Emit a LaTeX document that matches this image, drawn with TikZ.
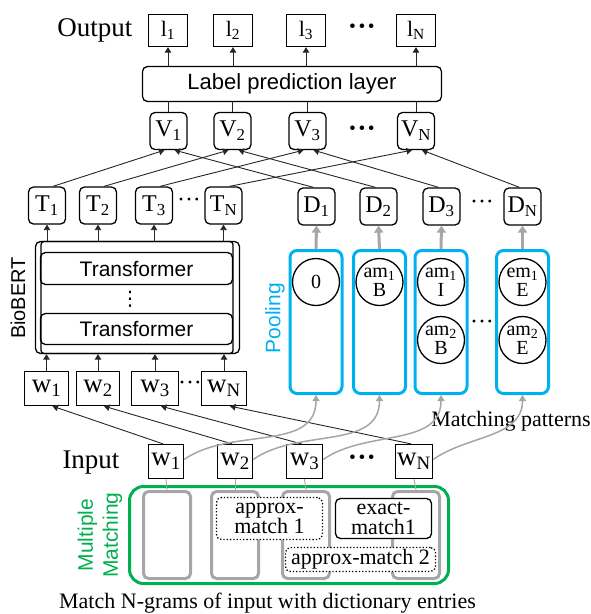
\documentclass[tikz,border=0pt]{standalone}
\usepackage{fontspec}
\setmainfont{Liberation Serif}
\setsansfont{Liberation Sans}
\newfontfamily\dejavu{DejaVu Sans}
\usetikzlibrary{arrows.meta}
\definecolor{cyanP}{HTML}{00B0F0}
\definecolor{greenM}{HTML}{00B050}
\definecolor{grayM}{HTML}{A6A6A6}
\newcommand\fsz[2]{\fontsize{#1}{#2}\selectfont}
\newcommand\sbs[1]{\textsubscript{#1}}
\begin{document}
\begin{tikzpicture}[x=1pt,y=-1pt,
  bx/.style={draw, line width=1.3pt, inner sep=0pt},
  rbx/.style={bx, rounded corners=5pt},
  lbox/.style={bx, minimum width=39, minimum height=32, font=\fsz{22}{22}},
  vbox/.style={rbx, minimum width=37, minimum height=37, font=\fsz{24}{24}},
  wbox/.style={bx, minimum height=34, font=\fsz{27}{27}},
  arr/.style={-{Triangle[width=6.5pt,length=5.5pt]}, line width=0.9pt, draw=black!85},
  ln/.style={line width=0.9pt, draw=black!85},
  pool/.style={draw=cyanP, line width=3pt, rounded corners=7pt, minimum width=52, minimum height=143, inner sep=0pt},
  circ/.style={circle, draw, line width=1.3pt, minimum size=47, inner sep=0pt, align=center, font=\fsz{20}{19}},
  garr/.style={draw=grayM, line width=3pt, -{Triangle[width=9pt,length=7pt]}},
  gcurve/.style={draw=grayM, line width=1.5pt, -{Triangle[width=7pt,length=6pt]}},
  gbox/.style={draw=grayM, line width=3pt, rounded corners=5pt, minimum width=47, minimum height=87, inner sep=0pt},
  dotbox/.style={draw, dotted, line width=1.3pt, rounded corners=5pt, fill=white, align=center, font=\fsz{22}{20}, inner sep=0pt},
  dots/.style={font=\fsz{24}{24}}
]
\useasboundingbox (0,0) rectangle (591,614);

% ---- Output row
\node[font=\fsz{27}{27}] (outl) at (95,30) {Output};
\node[lbox] (l1) at (168,30.5) {l\sbs{1}};
\node[lbox] (l2) at (233,30.5) {l\sbs{2}};
\node[lbox] (l3) at (306,30.5) {l\sbs{3}};
\node[lbox] (l4) at (416,30.5) {l\sbs{N}};
\node[font=\bfseries\fsz{28}{28}] (ldots) at (362,30) {···};

% ---- label prediction layer
\node[rbx, minimum width=299, minimum height=35, font=\sffamily\fsz{22}{22}] (lab) at (292,84) {Label prediction layer};
\foreach \i in {1,2,3,4} \draw[arr] (l\i.south |- lab.north) -- (l\i.south);

% ---- V row
\node[vbox] (V1) at (168.5,131) {V\sbs{1}};
\node[vbox] (V2) at (232.5,131) {V\sbs{2}};
\node[vbox] (V3) at (307.5,131) {V\sbs{3}};
\node[vbox] (V4) at (416,131) {V\sbs{N}};
\node[font=\bfseries\fsz{28}{28}] (vdots) at (362,132) {···};
\foreach \i in {1,2,3,4} \draw[ln] (V\i.north) -- (V\i.north |- lab.south);

% ---- T row
\node[vbox] (T1) at (47,205.5) {T\sbs{1}};
\node[vbox] (T2) at (98,205.5) {T\sbs{2}};
\node[vbox] (T3) at (154,205.5) {T\sbs{3}};
\node[vbox] (T4) at (223.5,205.5) {T\sbs{N}};
\node[dots] (tdots) at (189,203) {···};

% ---- D row
\node[vbox] (D1) at (316.5,206.5) {D\sbs{1}};
\node[vbox] (D2) at (378.5,206.5) {D\sbs{2}};
\node[vbox] (D3) at (441.5,206.5) {D\sbs{3}};
\node[vbox] (D4) at (522.5,206.5) {D\sbs{N}};
\node[dots] (ddots) at (482,205) {···};

\foreach \i in {1,2,3,4} {
  \draw[arr] ([xshift=6pt]T\i.north) -- ([xshift=-4pt]V\i.south);
  \draw[arr] ([xshift=-3pt]D\i.north) -- ([xshift=6pt]V\i.south);
}

% ---- BioBERT
\node[rbx, minimum width=204, minimum height=112] (bio) at (137.5,297.5) {};
\node[rbx, rounded corners=3pt, minimum width=192, minimum height=112] (bioin) at (137,297.5) {};
\node[rbx, minimum width=192, minimum height=32, font=\sffamily\fsz{21}{21}] (tr1) at (136.5,268.5) {Transformer};
\node[rbx, minimum width=192, minimum height=31, font=\sffamily\fsz{21}{21}] (tr2) at (136.5,329) {Transformer};
\node[font=\dejavu\fsz{20}{20}] (vd) at (130,299) {⋮};
\node[rotate=90, font=\sffamily\fsz{20}{20}] (biol) at (18,298) {BioBERT};
\foreach \i in {1,2,3,4} \draw[arr] (T\i.south |- bio.north) -- (T\i.south);

% ---- BERT input w
\node[wbox, minimum width=44] (w1) at (46.5,388.5) {w\sbs{1}};
\node[wbox, minimum width=43] (w2) at (98,388.5) {w\sbs{2}};
\node[wbox, minimum width=47] (w3) at (155,388.5) {w\sbs{3}};
\node[wbox, minimum width=45] (w4) at (224,388.5) {w\sbs{N}};
\node[dots] (wdots) at (190,386) {···};
\foreach \i in {1,2,3,4} \draw[arr] (w\i.north) -- (w\i.north |- bio.south);

% ---- Pooling
\node[rotate=90, text=cyanP, font=\sffamily\fsz{21}{21}] (pooll) at (275,318) {Pooling};
\node[pool] (P1) at (316,322) {};
\node[pool] (P2) at (379.5,322) {};
\node[pool] (P3) at (441,322) {};
\node[pool] (P4) at (522.5,322) {};
\node[circ] (c1) at (316,282) {0};
\node[circ] (c2) at (379.5,282) {am\sbs{1}\\B};
\node[circ] (c3) at (441,282) {am\sbs{1}\\I};
\node[circ] (c3b) at (441,340) {am\sbs{2}\\B};
\node[circ] (c4) at (522.5,282) {em\sbs{1}\\E};
\node[circ] (c4b) at (522.5,340) {am\sbs{2}\\E};
\node[dots] (pdots) at (482,325) {···};
\foreach \i in {1,2,3,4} \draw[garr] (P\i.north) -- (D\i.south);

\node[font=\fsz{22}{22}] (mp) at (511,421) {Matching patterns};

% ---- Input row
\node[font=\fsz{27}{27}] (inl) at (91,463) {Input};
\node[wbox, minimum width=35] (iw1) at (166,461.5) {w\sbs{1}};
\node[wbox, minimum width=35] (iw2) at (235,461.5) {w\sbs{2}};
\node[wbox, minimum width=36] (iw3) at (304.5,461.5) {w\sbs{3}};
\node[wbox, minimum width=37] (iw4) at (414,461.5) {w\sbs{N}};
\node[font=\bfseries\fsz{28}{28}] (idots) at (362,461) {···};

\foreach \i in {1,2,3,4} \draw[arr] ([xshift=-3pt]iw\i.north) -- ([xshift=6pt]w\i.south);
\foreach \i in {1,2,3,4} \draw[gcurve] ([yshift=2pt]iw\i.east) to[out=35,in=-90] (P\i.south);

% ---- Multiple matching
\node[draw=greenM, line width=3pt, rounded corners=14pt, minimum width=319, minimum height=97] (mm) at (289,535) {};
\node[rotate=90, text=greenM, font=\sffamily\fsz{21}{25}, align=center] (mmt) at (100,535) {Multiple\\Matching};
\node[gbox] (G1) at (167,535) {};
\node[gbox] (G2) at (235,535) {};
\node[gbox] (G3) at (306,535) {};
\node[gbox] (G4) at (416,535) {};
\foreach \i in {1,2,3,4} \draw[draw=grayM, line width=0.9pt] (iw\i.south) -- (G\i.north);
\node[dotbox, minimum width=106, minimum height=42] (am1) at (269.5,518.5) {approx-\\match 1};
\node[rbx, fill=white, align=center, font=\fsz{22}{20}, minimum width=96, minimum height=40] (em1) at (383.5,518.5) {exact-\\match1};
\node[dotbox, minimum width=150, minimum height=24] (am2) at (360.5,559.5) {approx-match 2};

\node[font=\fsz{22}{22}] (cap) at (267.5,603) {Match N-grams of input with dictionary entries};
\end{tikzpicture}
\end{document}
